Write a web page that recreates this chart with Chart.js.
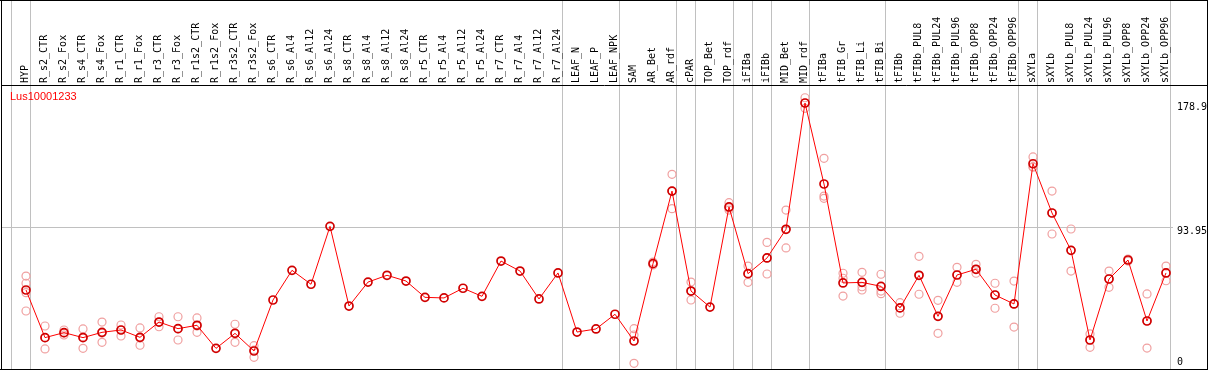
<!DOCTYPE html>
<html>
<head>
<meta charset="utf-8">
<script src="https://cdn.jsdelivr.net/npm/chart.js@4"></script>
<style>
  html, body { margin: 0; padding: 0; background: #fff; }
  #wrap { width: 1209px; height: 370px; position: relative; }
</style>
</head>
<body>
<div id="wrap"><canvas id="chart" width="1209" height="370"></canvas></div>
<script>
var geneName = 'Lus10001233';

var categories = ['HYP', 'R_s2_CTR', 'R_s2_Fox', 'R_s4_CTR', 'R_s4_Fox', 'R_r1_CTR', 'R_r1_Fox', 'R_r3_CTR', 'R_r3_Fox',
    'R_r1s2_CTR', 'R_r1s2_Fox', 'R_r3s2_CTR', 'R_r3s2_Fox', 'R_s6_CTR', 'R_s6_Al4', 'R_s6_Al12', 'R_s6_Al24',
    'R_s8_CTR', 'R_s8_Al4', 'R_s8_Al12', 'R_s8_Al24', 'R_r5_CTR', 'R_r5_Al4', 'R_r5_Al12', 'R_r5_Al24',
    'R_r7_CTR', 'R_r7_Al4', 'R_r7_Al12', 'R_r7_Al24', 'LEAF_N', 'LEAF_P', 'LEAF_NPK', 'SAM', 'AR_Bet', 'AR_rdf',
    'cPAR', 'TOP_Bet', 'TOP_rdf', 'iFIBa', 'iFIBb', 'MID_Bet', 'MID_rdf', 'tFIBa', 'tFIB_Gr', 'tFIB_Li', 'tFIB_Bi',
    'tFIBb', 'tFIBb_PUL8', 'tFIBb_PUL24', 'tFIBb_PUL96', 'tFIBb_OPP8', 'tFIBb_OPP24', 'tFIBb_OPP96',
    'sXYLa', 'sXYLb', 'sXYLb_PUL8', 'sXYLb_PUL24', 'sXYLb_PUL96', 'sXYLb_OPP8', 'sXYLb_OPP24', 'sXYLb_OPP96'];

// mean expression per sample
var means = [51.7, 19.3, 22.7, 19.3, 22.9, 24.5, 19.5, 29.9, 25.4, 27.7, 12.0, 22.2, 10.2,
    44.9, 65.1, 55.6, 95.0, 40.8, 57.1, 61.7, 57.8, 46.7, 46.3, 52.9, 47.4, 71.4, 64.6, 45.6, 63.3,
    23.1, 25.2, 35.2, 17.0, 69.6, 119.0, 51.0, 40.1, 108.2, 62.8, 73.5, 93.0, 178.9, 123.8,
    56.5, 56.9, 54.2, 39.5, 61.7, 33.8, 61.9, 65.8, 48.3, 42.2, 137.6, 104.1, 78.7, 17.7, 59.2, 72.1, 30.6, 63.3];

// single replicates per sample
var replicates = [
    [61.2, 56.3, 49.9, 37.4], [27.2, 19.3, 11.6], [24.5, 22.4, 21.1], [25.2, 19.7, 12.0], [29.9, 22.4, 16.1],
    [27.9, 24.5, 20.4], [25.9, 19.0, 14.1], [33.5, 29.9, 26.7], [33.5, 25.2, 17.7], [32.7, 27.2, 22.9], [],
    [28.4, 22.4, 16.1], [13.8, 10.9, 5.9],
    [], [], [], [], [], [], [], [], [], [], [], [], [], [], [], [], [], [], [],
    [25.4, 21.1, 1.8], [70.7, 68.7], [130.4, 119.0, 107.0], [57.1, 51.0, 44.9], [], [111.1, 107.5, 106.1],
    [68.0, 62.8, 56.9], [84.1, 73.5, 62.6], [106.1, 93.0, 80.3], [182.5, 178.9, 175.3], [141.3, 115.6, 114.1],
    [63.1, 59.7, 47.6], [63.7, 53.9, 51.7], [62.4, 51.0, 49.2], [43.1, 39.5, 35.9], [74.6, 61.7, 48.8],
    [44.7, 33.8, 22.2], [67.1, 61.9, 56.9], [69.2, 65.8, 63.1], [56.3, 48.3, 39.3], [57.8, 42.2, 26.5],
    [142.2, 135.2, 135.6], [119.0, 104.1, 89.8], [93.2, 78.7, 64.6], [21.8, 17.7, 12.7], [64.6, 59.2, 53.5],
    [72.8, 71.4], [49.0, 30.6, 12.2], [68.0, 63.3, 58.0]];

var yTicks = [0, 93.95, 178.9];
// last sample index of each group (separator lines)
var groupEnds = [-1, 0, 28, 31, 34, 35, 37, 38, 39, 41, 45, 52, 53, 60];

var sepShift = 4 / 19;
var sepValues = groupEnds.map(function (i) { return i + sepShift; });

var meanPoints = means.map(function (v, i) { return { x: i, y: v }; });
var repPoints = [];
for (var i = 0; i < replicates.length; i++) {
    for (var j = 0; j < replicates[i].length; j++) {
        repPoints.push({ x: i, y: replicates[i][j] });
    }
}

function noPad(scale) {
    scale.paddingLeft = 0;
    scale.paddingRight = 0;
    scale.paddingTop = 0;
    scale.paddingBottom = 0;
}

var frame = {
    id: 'frame',
    afterDraw: function (chart) {
        var ctx = chart.ctx;
        ctx.save();
        ctx.strokeStyle = '#000';
        ctx.lineWidth = 1;
        ctx.beginPath();
        ctx.moveTo(0, 0.5); ctx.lineTo(1208, 0.5);
        ctx.moveTo(1.5, 0); ctx.lineTo(1.5, 370);
        ctx.moveTo(0, 369.5); ctx.lineTo(1208, 369.5);
        ctx.moveTo(1207.5, 0); ctx.lineTo(1207.5, 370);
        ctx.moveTo(1, 85.5); ctx.lineTo(1208, 85.5);
        ctx.stroke();
        ctx.fillStyle = '#ff0000';
        ctx.font = '11px "Liberation Sans", Arial, sans-serif';
        ctx.textBaseline = 'middle';
        ctx.fillText(geneName, 10, 97);
        ctx.restore();
    }
};

new Chart(document.getElementById('chart'), {
    type: 'line',
    data: {
        datasets: [
            {
                label: 'mean',
                data: meanPoints,
                borderColor: '#ff0000',
                borderWidth: 1,
                pointRadius: 4,
                pointBorderWidth: 1.7,
                pointBorderColor: '#d00000',
                pointBackgroundColor: 'rgba(0,0,0,0)',
                tension: 0,
                order: 1
            },
            {
                label: 'replicates',
                data: repPoints,
                showLine: false,
                pointRadius: 4,
                pointBorderWidth: 1.2,
                pointBorderColor: '#f0a0a0',
                pointBackgroundColor: 'rgba(0,0,0,0)',
                order: 2
            }
        ]
    },
    options: {
        responsive: false,
        animation: false,
        layout: { autoPadding: false, padding: { left: 1, right: 0, top: 0, bottom: 1 } },
        plugins: { legend: { display: false }, tooltip: { enabled: false } },
        scales: {
            x: {
                type: 'linear',
                position: 'top',
                min: -1.316,
                max: 60.368,
                afterBuildTicks: function (scale) {
                    var t = [];
                    for (var k = 0; k < categories.length; k++) t.push({ value: k });
                    sepValues.forEach(function (v) { t.push({ value: v }); });
                    t.sort(function (a, b) { return a.value - b.value; });
                    scale.ticks = t;
                },
                afterFit: function (scale) { scale.height = 85; noPad(scale); },
                border: { display: false },
                grid: {
                    drawTicks: true,
                    tickLength: 85,
                    lineWidth: 1,
                    color: function (c) {
                        return c.tick && !Number.isInteger(c.tick.value) ? '#c0c0c0' : 'rgba(0,0,0,0)';
                    }
                },
                ticks: {
                    autoSkip: false,
                    minRotation: 90,
                    maxRotation: 90,
                    padding: -83,
                    labelOffset: 11,
                    color: '#000',
                    font: { family: '"DejaVu Sans Mono", monospace', size: 10 },
                    callback: function (value) {
                        return Number.isInteger(value) ? categories[value] : '';
                    }
                }
            },
            y: {
                type: 'linear',
                position: 'right',
                min: -2.04,
                max: 191.16,
                afterBuildTicks: function (scale) {
                    scale.ticks = yTicks.map(function (v) { return { value: v }; });
                },
                afterFit: function (scale) { scale.width = 36; noPad(scale); },
                border: { display: false },
                grid: {
                    drawTicks: false,
                    color: function (c) {
                        return c.tick && c.tick.value === 93.95 ? '#c0c0c0' : 'rgba(0,0,0,0)';
                    }
                },
                ticks: {
                    padding: 4,
                    labelOffset: 4,
                    color: '#000',
                    font: { family: '"DejaVu Sans Mono", monospace', size: 10, lineHeight: 1.6 },
                    callback: function (value) {
                        return value === 0 ? ['0', ''] : String(value);
                    }
                }
            }
        }
    },
    plugins: [frame]
});
</script>
</body>
</html>
